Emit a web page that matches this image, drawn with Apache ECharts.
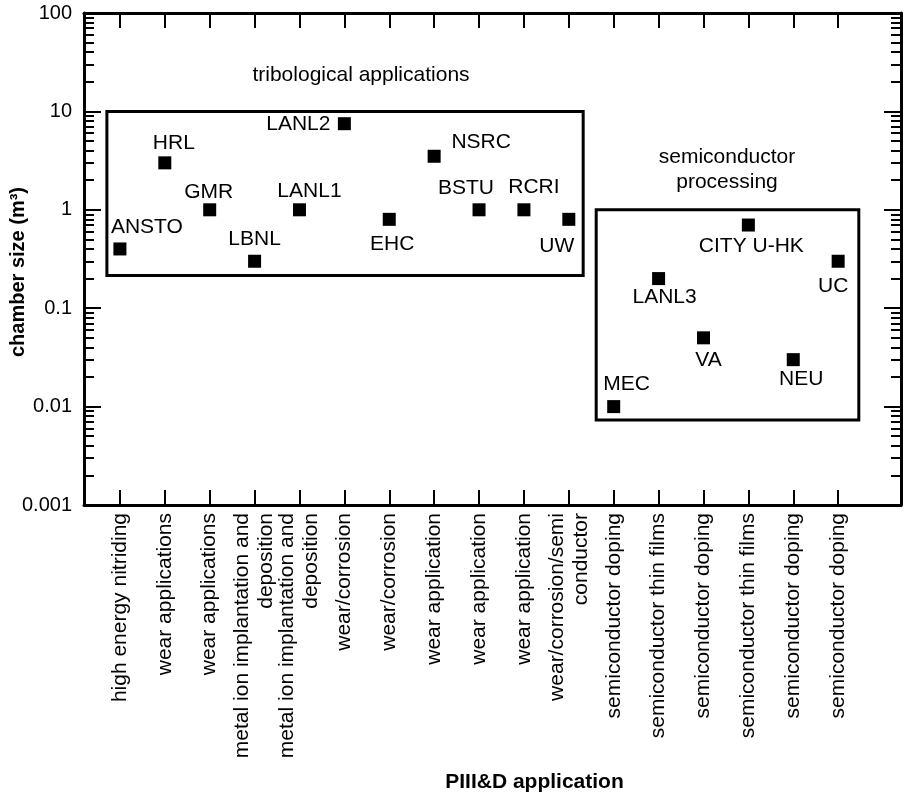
<!DOCTYPE html>
<html>
<head>
<meta charset="utf-8">
<script src="https://cdn.jsdelivr.net/npm/echarts@6/dist/echarts.min.js"></script>
<style>
html,body{margin:0;padding:0;background:#fff;}
#chart{width:907px;height:796px;}
</style>
</head>
<body>
<div id="chart"></div>
<script>
// ---- data ----
const categories = [
  'high energy nitriding',
  'wear applications',
  'wear applications',
  'metal ion implantation and\ndeposition',
  'metal ion implantation and\ndeposition',
  'wear/corrosion',
  'wear/corrosion',
  'wear application',
  'wear application',
  'wear application',
  'wear/corrosion/semi\nconductor',
  'semiconductor doping',
  'semiconductor thin films',
  'semiconductor doping',
  'semiconductor thin films',
  'semiconductor doping',
  'semiconductor doping'
];
const labNames = ['ANSTO','HRL','GMR','LBNL','LANL1','LANL2','EHC','NSRC','BSTU','RCRI','UW','MEC','LANL3','VA','CITY U-HK','NEU','UC'];
const chamberSize = [0.4, 3.0, 1.0, 0.3, 1.0, 7.5, 0.8, 3.5, 1.0, 1.0, 0.8, 0.01, 0.2, 0.05, 0.7, 0.03, 0.3];
const yTickValues = [0.001, 0.01, 0.1, 1, 10, 100];
const yTickLabels = ['0.001', '0.01', '0.1', '1', '10', '100'];
const groupNames = ['tribological applications', 'semiconductor\nprocessing'];
// group boxes: [xStart, yTop, xEnd, yBottom] in data units
const triboBox = [-0.29, 10, 10.32, 0.215];
const semiBox = [10.61, 1.0, 16.46, 0.0073];

// ---- layout (label offsets of text centre from marker centre, px) ----
const labelOffsets = [[27,-22],[9,-20],[-1,-18],[0,-22],[10,-19],[-46,1],[3,25],[47,-14],[-13,-22],[10,-23],[-12,27],[13,-22],[6,19],[5,22],[3,21],[8,20],[-5,25]];

const FONT = 'Liberation Sans, Arial, Helvetica, sans-serif';
const catIdx = categories.map((c, i) => i);
const minorLogs = [];
for (let e = -3; e < 2; e++) for (let k = 2; k <= 9; k++) minorLogs.push(e + Math.log10(k));

const chart = echarts.init(document.getElementById('chart'));
const gridRect = {left: 84, right: 6, top: 13, bottom: 291, containLabel: false, outerBoundsMode: 'none'};
const xCommon = {
  type: 'value', min: -0.8, max: 17.4,
  splitLine: {show: false},
  axisLine: {show: true, onZero: false, lineStyle: {color: '#000', width: 3}},
  axisTick: {show: true, inside: true, length: 15, lineStyle: {color: '#000', width: 2}, customValues: catIdx}
};
const yLogCommon = {
  type: 'log', logBase: 10, min: 0.001, max: 100,
  gridIndex: 0,
  splitLine: {show: false},
  axisLine: {show: true, onZero: false, lineStyle: {color: '#000', width: 3}},
  axisTick: {show: true, inside: true, length: 17, lineStyle: {color: '#000', width: 2}}
};
const yMinorCommon = {
  type: 'value', min: -3, max: 2,
  gridIndex: 1,
  splitLine: {show: false},
  axisLine: {show: false, onZero: false},
  axisLabel: {show: false},
  axisTick: {show: true, inside: true, length: 10, lineStyle: {color: '#000', width: 2}, customValues: minorLogs}
};

chart.setOption({
  backgroundColor: '#fff',
  animation: false,
  textStyle: {fontFamily: FONT},
  grid: [Object.assign({}, gridRect), Object.assign({}, gridRect)],
  xAxis: [
    Object.assign({}, xCommon, {
      gridIndex: 0,
      position: 'bottom',
      name: 'PIII&D application',
      nameLocation: 'middle',
      nameGap: 267,
      nameMoveOverlap: false,
      nameTextStyle: {fontFamily: FONT, fontSize: 21, fontWeight: 'bold', color: '#000', padding: [0, 0, 0, 84]},
      axisLabel: {
        show: true, rotate: 90, margin: 8, fontSize: 21, color: '#000', fontFamily: FONT,
        lineHeight: 24, customValues: catIdx,
        formatter: v => categories[Math.round(v)] || ''
      }
    }),
    Object.assign({}, xCommon, {gridIndex: 0, position: 'top', axisLabel: {show: false}}),
    {type: 'value', gridIndex: 1, min: -0.8, max: 17.4, show: false}
  ],
  yAxis: [
    Object.assign({}, yLogCommon, {
      position: 'left',
      name: 'chamber size (m³)',
      nameLocation: 'middle',
      nameRotate: 90,
      nameGap: 56,
      nameMoveOverlap: false,
      nameTextStyle: {fontFamily: FONT, fontSize: 20, fontWeight: 'bold', color: '#000', padding: [0, 26, 0, 0]},
      axisLabel: {
        show: true, margin: 12, fontSize: 20, color: '#000', fontFamily: FONT,
        formatter: v => {
          const i = yTickValues.findIndex(t => Math.abs(Math.log10(t) - Math.log10(v)) < 1e-6);
          return i >= 0 ? yTickLabels[i] : '';
        }
      }
    }),
    Object.assign({}, yLogCommon, {position: 'right', axisLabel: {show: false}}),
    Object.assign({}, yMinorCommon, {position: 'left'}),
    Object.assign({}, yMinorCommon, {position: 'right'})
  ],
  series: [{
    type: 'scatter',
    xAxisIndex: 0, yAxisIndex: 0,
    symbol: 'rect',
    symbolSize: 13,
    itemStyle: {color: '#000', opacity: 1},
    data: chamberSize.map((v, i) => ({
      value: [i, v],
      name: labNames[i],
      label: {
        show: true, position: 'inside', offset: labelOffsets[i],
        formatter: labNames[i], fontSize: 21, color: '#000', opacity: 1, fontFamily: FONT
      }
    })),
    markArea: {
      silent: true,
      itemStyle: {color: 'rgba(0,0,0,0)', borderColor: '#000', borderWidth: 3},
      label: {show: false},
      data: [
        [{xAxis: triboBox[0], yAxis: triboBox[1]}, {xAxis: triboBox[2], yAxis: triboBox[3]}],
        [{xAxis: semiBox[0], yAxis: semiBox[1]}, {xAxis: semiBox[2], yAxis: semiBox[3]}]
      ]
    }
  }],
  graphic: [
    {type: 'text', x: 361, y: 75, style: {text: groupNames[0], font: '21px ' + FONT, fill: '#000', textAlign: 'center', textVerticalAlign: 'middle'}},
    {type: 'text', x: 727, y: 170, style: {text: groupNames[1], font: '21px ' + FONT, lineHeight: 25, fill: '#000', textAlign: 'center', textVerticalAlign: 'middle'}}
  ]
});
</script>
</body>
</html>
